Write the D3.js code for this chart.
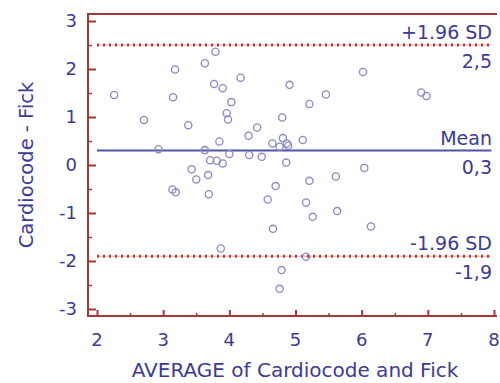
<!DOCTYPE html>
<html>
<head>
<meta charset="utf-8">
<script src="https://cdn.jsdelivr.net/npm/d3@7"></script>
<style>
  html, body { margin: 0; padding: 0; background: #fff; }
  svg { display: block; }
  text { font-family: "DejaVu Sans", Verdana, sans-serif; fill: #3b3b95; }
</style>
</head>
<body>
<svg id="chart" width="500" height="383"></svg>
<script>
// ---- data ----
const averages = [2.26, 2.71, 2.93, 3.18, 3.15, 3.38, 3.63, 3.79, 3.77, 3.90,
                  3.63, 3.85, 3.71, 3.81, 3.90, 3.96, 3.98, 4.03, 4.17, 4.29,
                  4.42, 4.00, 4.30, 4.49, 4.65, 4.76, 4.81, 4.87, 4.89, 4.80,
                  4.91, 5.21, 5.46, 5.11, 4.86, 6.02, 6.90, 6.98, 6.04, 3.43,
                  3.50, 3.68, 3.14, 3.19, 3.69, 3.87, 4.58, 4.70, 4.66, 4.79,
                  4.76, 5.21, 5.61, 5.16, 5.26, 5.63, 5.16, 6.14];
const differences = [1.46, 0.94, 0.33, 1.99, 1.41, 0.83, 2.12, 2.36, 1.69, 1.60,
                     0.31, 0.49, 0.10, 0.09, 0.03, 1.08, 0.95, 1.31, 1.82, 0.61,
                     0.78, 0.23, 0.21, 0.17, 0.45, 0.38, 0.56, 0.45, 0.40, 0.99,
                     1.67, 1.27, 1.47, 0.52, 0.05, 1.94, 1.51, 1.44, -0.06, -0.09,
                     -0.30, -0.21, -0.51, -0.57, -0.61, -1.74, -0.72, -0.44, -1.33, -2.19,
                     -2.58, -0.33, -0.24, -0.78, -1.08, -0.96, -1.91, -1.28];
const meanDiff = 0.3;
const upperLimit = 2.5;
const lowerLimit = -1.9;
const limitNames = ["+1.96 SD", "Mean", "-1.96 SD"];
const limitLabels = ["2,5", "0,3", "-1,9"];
const xTicks = [2, 3, 4, 5, 6, 7, 8];
const yTicks = [-3, -2, -1, 0, 1, 2, 3];
const xTitle = "AVERAGE of Cardiocode and Fick";
const yTitle = "Cardiocode - Fick";

// ---- layout ----
const svg = d3.select("#chart");
const plotL = 88, plotR = 494, plotT = 14, plotB = 316;
const x = d3.scaleLinear().domain([1.864, 8]).range([plotL, plotR]);
const y = d3.scaleLinear().domain([-3.146, 3.146]).range([plotB, plotT]);
const spine = "#a3383a";

// limit lines
const lineX0 = x(2), lineX1 = x(7.96);
function dotted(v) {
  svg.append("line").attr("x1", lineX0).attr("x2", lineX1)
    .attr("y1", y(v)).attr("y2", y(v))
    .attr("stroke", "#dea0a0").attr("stroke-width", 1);
  svg.append("line").attr("x1", lineX0).attr("x2", lineX1)
    .attr("y1", y(v)).attr("y2", y(v))
    .attr("stroke", "#b83a3a").attr("stroke-width", 3)
    .attr("stroke-dasharray", "2,4");
}
dotted(upperLimit);
dotted(lowerLimit);
svg.append("line").attr("x1", lineX0).attr("x2", lineX1)
  .attr("y1", y(meanDiff)).attr("y2", y(meanDiff))
  .attr("stroke", "#5252a8").attr("stroke-width", 2);

// points
svg.append("g").selectAll("circle").data(averages).join("circle")
  .attr("cx", (d) => x(d))
  .attr("cy", (d, i) => y(differences[i]))
  .attr("r", 3.6)
  .attr("fill", "none")
  .attr("stroke", "#8a8ac2")
  .attr("stroke-width", 1.3);

// limit labels
const lx = 492;
const refVals = [upperLimit, meanDiff, lowerLimit];
refVals.forEach((v, i) => {
  svg.append("text").attr("x", lx).attr("y", y(v) - 6)
    .attr("text-anchor", "end").attr("font-size", 19).text(limitNames[i]);
  svg.append("text").attr("x", lx).attr("y", y(v) + 23)
    .attr("text-anchor", "end").attr("font-size", 19).text(limitLabels[i]);
});

// spines
svg.append("line").attr("x1", plotL).attr("x2", plotL).attr("y1", plotT).attr("y2", plotB)
  .attr("stroke", spine).attr("stroke-width", 2);
svg.append("line").attr("x1", plotL - 1).attr("x2", 497).attr("y1", plotT).attr("y2", plotT)
  .attr("stroke", spine).attr("stroke-width", 2);
svg.append("line").attr("x1", plotL - 1).attr("x2", 497).attr("y1", plotB).attr("y2", plotB)
  .attr("stroke", spine).attr("stroke-width", 2);

// y axis ticks (inward)
const yAxis = d3.axisRight(y).tickValues(yTicks).tickSize(8).tickFormat("");
const gy = svg.append("g").attr("transform", `translate(${plotL},0)`).call(yAxis);
gy.select(".domain").remove();
gy.selectAll("line").attr("stroke", spine).attr("stroke-width", 2);
const yMinor = d3.axisRight(y).tickValues(yTicks.slice(0, -1).map(v => v + 0.5)).tickSize(4).tickFormat("");
const gym = svg.append("g").attr("transform", `translate(${plotL},0)`).call(yMinor);
gym.select(".domain").remove();
gym.selectAll("line").attr("stroke", spine).attr("stroke-width", 1.5);

// x axis ticks (inward)
const xAxis = d3.axisTop(x).tickValues(xTicks).tickSize(6).tickFormat("");
const gx = svg.append("g").attr("transform", `translate(0,${plotB})`).call(xAxis);
gx.select(".domain").remove();
gx.selectAll("line").attr("stroke", spine).attr("stroke-width", 2);
const xMinor = d3.axisTop(x).tickValues(xTicks.slice(0, -1).map(v => v + 0.5)).tickSize(3).tickFormat("");
const gxm = svg.append("g").attr("transform", `translate(0,${plotB})`).call(xMinor);
gxm.select(".domain").remove();
gxm.selectAll("line").attr("stroke", spine).attr("stroke-width", 1.5);

// tick labels
svg.append("g").selectAll("text").data(yTicks).join("text")
  .attr("x", 77).attr("y", d => y(d)).attr("dy", "0.36em")
  .attr("text-anchor", "end").attr("font-size", 18).text(d => d);
svg.append("g").selectAll("text").data(xTicks).join("text")
  .attr("x", d => x(d)).attr("y", 346)
  .attr("text-anchor", "middle").attr("font-size", 18).text(d => d);

// titles
svg.append("text").attr("x", 295).attr("y", 377)
  .attr("text-anchor", "middle").attr("font-size", 20).text(xTitle);
svg.append("text").attr("transform", "translate(33,165) rotate(-90)")
  .attr("text-anchor", "middle").attr("font-size", 19.5).text(yTitle);
</script>
</body>
</html>
